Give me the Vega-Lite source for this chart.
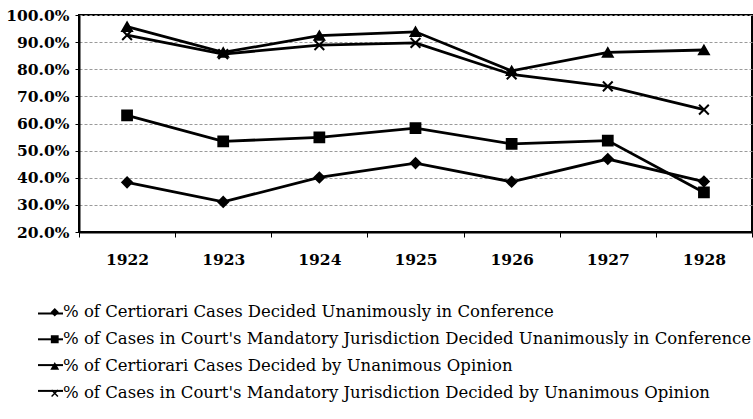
{
  "$schema": "https://vega.github.io/schema/vega-lite/v6.json",
  "width": 673,
  "height": 217,
  "autosize": "none",
  "padding": {"left": 79, "top": 15, "right": 1, "bottom": 187},
  "background": "white",
  "config": {
    "view": {"stroke": "black", "strokeWidth": 2},
    "font": "DejaVu Serif"
  },
  "data": {
    "values": [
      {"year": "1922", "series": "% of Certiorari Cases Decided Unanimously in Conference", "value": 0.383},
      {"year": "1923", "series": "% of Certiorari Cases Decided Unanimously in Conference", "value": 0.311},
      {"year": "1924", "series": "% of Certiorari Cases Decided Unanimously in Conference", "value": 0.401},
      {"year": "1925", "series": "% of Certiorari Cases Decided Unanimously in Conference", "value": 0.454},
      {"year": "1926", "series": "% of Certiorari Cases Decided Unanimously in Conference", "value": 0.385},
      {"year": "1927", "series": "% of Certiorari Cases Decided Unanimously in Conference", "value": 0.469},
      {"year": "1928", "series": "% of Certiorari Cases Decided Unanimously in Conference", "value": 0.386},
      {"year": "1922", "series": "% of Cases in Court's Mandatory Jurisdiction Decided Unanimously in Conference", "value": 0.63},
      {"year": "1923", "series": "% of Cases in Court's Mandatory Jurisdiction Decided Unanimously in Conference", "value": 0.534},
      {"year": "1924", "series": "% of Cases in Court's Mandatory Jurisdiction Decided Unanimously in Conference", "value": 0.549},
      {"year": "1925", "series": "% of Cases in Court's Mandatory Jurisdiction Decided Unanimously in Conference", "value": 0.583},
      {"year": "1926", "series": "% of Cases in Court's Mandatory Jurisdiction Decided Unanimously in Conference", "value": 0.525},
      {"year": "1927", "series": "% of Cases in Court's Mandatory Jurisdiction Decided Unanimously in Conference", "value": 0.537},
      {"year": "1928", "series": "% of Cases in Court's Mandatory Jurisdiction Decided Unanimously in Conference", "value": 0.346},
      {"year": "1922", "series": "% of Certiorari Cases Decided by Unanimous Opinion", "value": 0.957},
      {"year": "1923", "series": "% of Certiorari Cases Decided by Unanimous Opinion", "value": 0.862},
      {"year": "1924", "series": "% of Certiorari Cases Decided by Unanimous Opinion", "value": 0.924},
      {"year": "1925", "series": "% of Certiorari Cases Decided by Unanimous Opinion", "value": 0.938},
      {"year": "1926", "series": "% of Certiorari Cases Decided by Unanimous Opinion", "value": 0.794},
      {"year": "1927", "series": "% of Certiorari Cases Decided by Unanimous Opinion", "value": 0.862},
      {"year": "1928", "series": "% of Certiorari Cases Decided by Unanimous Opinion", "value": 0.871},
      {"year": "1922", "series": "% of Cases in Court's Mandatory Jurisdiction Decided by Unanimous Opinion", "value": 0.926},
      {"year": "1923", "series": "% of Cases in Court's Mandatory Jurisdiction Decided by Unanimous Opinion", "value": 0.856},
      {"year": "1924", "series": "% of Cases in Court's Mandatory Jurisdiction Decided by Unanimous Opinion", "value": 0.889},
      {"year": "1925", "series": "% of Cases in Court's Mandatory Jurisdiction Decided by Unanimous Opinion", "value": 0.897},
      {"year": "1926", "series": "% of Cases in Court's Mandatory Jurisdiction Decided by Unanimous Opinion", "value": 0.781},
      {"year": "1927", "series": "% of Cases in Court's Mandatory Jurisdiction Decided by Unanimous Opinion", "value": 0.737},
      {"year": "1928", "series": "% of Cases in Court's Mandatory Jurisdiction Decided by Unanimous Opinion", "value": 0.651}
    ]
  },
  "encoding": {
    "x": {
      "field": "year",
      "type": "ordinal",
      "bandPosition": 0.5,
      "scale": {"type": "band", "paddingInner": 0, "paddingOuter": 0},
      "axis": {
        "title": null,
        "labelAngle": 0,
        "labelFont": "DejaVu Serif",
        "labelFontWeight": "bold",
        "labelFontSize": 15.5,
        "labelColor": "black",
        "labelPadding": 15,
        "domainColor": "black",
        "domainWidth": 2,
        "tickColor": "black",
        "tickSize": 5,
        "tickBand": "extent",
        "grid": false
      }
    },
    "y": {
      "field": "value",
      "type": "quantitative",
      "scale": {"domain": [0.2, 1.0], "nice": false, "zero": false},
      "axis": {
        "title": null,
        "format": ".1%",
        "values": [0.2, 0.3, 0.4, 0.5, 0.6, 0.7, 0.8, 0.9, 1.0],
        "labelFont": "DejaVu Serif",
        "labelFontWeight": "bold",
        "labelFontSize": 15.5,
        "labelColor": "black",
        "labelPadding": 6,
        "domainColor": "black",
        "domainWidth": 2,
        "tickColor": "black",
        "tickSize": 4,
        "grid": true,
        "gridColor": "#9a9a9a",
        "gridDash": [3, 2],
        "gridWidth": 1
      }
    }
  },
  "layer": [
    {
      "mark": {"type": "line", "strokeWidth": 2.8},
      "encoding": {
        "color": {
          "field": "series",
          "type": "nominal",
          "scale": {"range": ["black", "black", "black", "black"]},
          "legend": {
            "title": null,
            "orient": "none",
            "legendX": -42,
            "legendY": 285,
            "direction": "vertical",
            "symbolType": "stroke",
            "symbolSize": 625,
            "symbolStrokeWidth": 2,
            "rowPadding": 3.8,
            "labelFontSize": 16.5,
            "labelExpr": "''",
            "labelLimit": 10
          }
        }
      }
    },
    {
      "mark": {"type": "point", "filled": true, "color": "black", "stroke": "black", "strokeWidth": 2, "size": 95, "opacity": 1},
      "encoding": {
        "shape": {
          "field": "series",
          "type": "nominal",
          "sort": null,
          "scale": {
            "domain": [
              "% of Certiorari Cases Decided Unanimously in Conference",
              "% of Cases in Court's Mandatory Jurisdiction Decided Unanimously in Conference",
              "% of Certiorari Cases Decided by Unanimous Opinion",
              "% of Cases in Court's Mandatory Jurisdiction Decided by Unanimous Opinion"
            ],
            "range": ["diamond", "square", "triangle-up", "M-1,-1L1,1M-1,1L1,-1"]
          },
          "legend": {
            "title": null,
            "orient": "none",
            "legendX": -32.5,
            "legendY": 289,
            "direction": "vertical",
            "rowPadding": 10,
            "labelFont": "DejaVu Serif",
            "labelFontSize": 16.5,
            "labelColor": "black",
            "labelLimit": 800,
            "labelOffset": 0,
            "symbolSize": 40,
            "symbolStrokeWidth": 1.5
          }
        }
      }
    }
  ]
}
